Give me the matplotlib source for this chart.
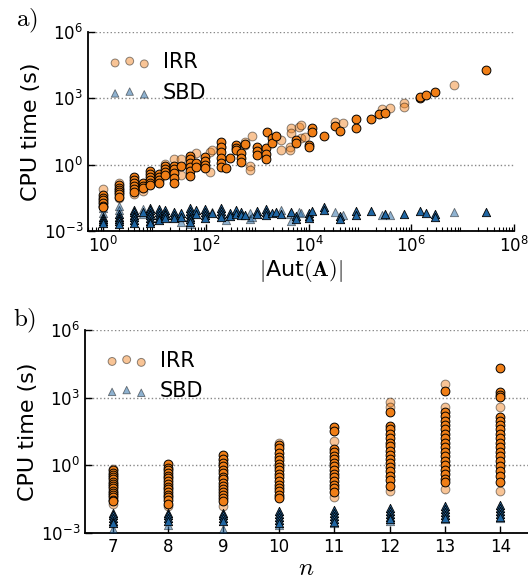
import numpy as np
import matplotlib
matplotlib.use('Agg')
import matplotlib.pyplot as plt

plt.rcParams['mathtext.fontset'] = 'cm'
plt.rcParams['font.family'] = 'DejaVu Sans'

# ---- panel a: CPU time vs |Aut(A)| ----
a_irr_dark_x = [1]*6 + [2]*6 + [4]*6 + [6]*3 + [8]*6 + [12]*4 + [16]*4 + [24]*5 + [32] + [48]*6 + [64]*2 \
    + [96]*4 + [192]*6 + [240, 288] + [384]*3 + [480]*3 + [576] + [960]*3 + [1440]*3 + [1536] + [1920]*2 \
    + [2304] + [5760]*2 + [10000]*2 + [11520]*2 + [20160, 32256, 40320] + [82944]*2 \
    + [161280, 230400, 311040, 1451520, 1451520, 1935360, 2903040, 29030400]
a_irr_dark_y = [0.042, 0.032, 0.025, 0.018, 0.014, 0.012,
                0.12, 0.09, 0.07, 0.055, 0.045, 0.035,
                0.28, 0.2, 0.15, 0.11, 0.08, 0.06,
                0.14, 0.11, 0.09,
                0.5, 0.38, 0.28, 0.2, 0.15, 0.12,
                0.37, 0.28, 0.2, 0.15,
                0.85, 0.6, 0.45, 0.32,
                0.9, 0.6, 0.4, 0.25, 0.15,
                0.85,
                2.4, 1.7, 1.2, 0.8, 0.5, 0.3,
                1.2, 0.8,
                2.2, 1.4, 1.0, 0.67,
                10.5, 6, 3.5, 2, 1.2, 0.77,
                0.67, 1.9,
                7.4, 5.5, 4.4,
                3.3, 2.0, 1.3,
                8.5,
                6.2, 4, 2.6,
                5.3, 3, 1.8,
                30,
                15, 9.5,
                20,
                12.7, 9.3,
                7.4, 6.3,
                43, 28,
                19, 54, 33,
                108, 44,
                112, 200, 220, 1000, 1100, 1350, 1800, 17800]

a_irr_light_x = [1, 1, 2, 2, 4, 6, 6, 16, 24, 32, 32, 64, 64, 120, 120, 128, 192, 576, 576, 720, 720, 768,
                 2880, 2880, 4320, 4320, 4608, 4608, 6600, 7200, 7200, 8400, 33000, 46080, 270000, 380000,
                 725760, 725760, 6900000]
a_irr_light_y = [0.078, 0.02, 0.14, 0.03, 0.045, 0.085, 0.065, 1.1, 1.7, 1.7, 0.33, 3.2, 1.1, 3.8, 0.46, 4.4,
                 6.3, 10.5, 7.4, 0.9, 0.56, 19, 12.7, 4.4, 6.3, 4.4, 44, 26, 50, 60, 15, 17.6, 85, 76, 305,
                 360, 600, 380, 3900]

a_sbd_dark_x = [1]*4 + [2]*5 + [4]*6 + [6] + [8]*7 + [12]*5 + [16]*4 + [24]*3 + [32]*2 + [48]*6 + [64]*2 \
    + [96]*4 + [128] + [192]*4 + [288]*2 + [384]*2 + [480]*2 + [576] + [960]*2 + [1440]*3 + [1920, 2304, 2880, 4608] \
    + [5760]*2 + [10000]*3 + [11520] + [20160]*2 + [40320]*2 + [82944]*2 \
    + [161280, 311040, 725760, 1451520, 1935360, 2903040, 2903040, 29030400]
a_sbd_dark_y = [0.0045, 0.0035, 0.0028, 0.0022,
                0.006, 0.0045, 0.0035, 0.0027, 0.0021,
                0.009, 0.007, 0.0055, 0.0042, 0.0032, 0.0024,
                0.007,
                0.011, 0.0085, 0.0065, 0.005, 0.0037, 0.0028, 0.0022,
                0.01, 0.0075, 0.0055, 0.004, 0.003,
                0.009, 0.0068, 0.005, 0.0037,
                0.007, 0.0052, 0.004,
                0.0065, 0.0045,
                0.011, 0.008, 0.006, 0.0045, 0.0033, 0.0025,
                0.009, 0.006,
                0.01, 0.0075, 0.0055, 0.004,
                0.0065,
                0.011, 0.008, 0.006, 0.0045,
                0.0065, 0.0048,
                0.0085, 0.006,
                0.007, 0.005,
                0.0055,
                0.008, 0.006,
                0.01, 0.007, 0.005,
                0.0068, 0.0075, 0.006, 0.007,
                0.0048, 0.0035,
                0.0065, 0.0048, 0.0037,
                0.0082,
                0.012, 0.0085,
                0.0048, 0.0036,
                0.008, 0.0055,
                0.0082, 0.0059, 0.006, 0.0082, 0.0068, 0.0059, 0.0045, 0.0074]

a_sbd_light_x = [1, 1, 2, 2, 6, 6, 24, 32, 32, 48, 128, 240, 720, 720, 768, 2880, 4320, 4608, 6600, 7200,
                 33000, 46080, 270000, 380000, 6900000]
a_sbd_light_y = [0.011, 0.0065, 0.013, 0.009, 0.0095, 0.006, 0.0055, 0.0045, 0.0025, 0.0021, 0.0075, 0.003,
                 0.0065, 0.0035, 0.0045, 0.0085, 0.006, 0.0028, 0.0074, 0.0065, 0.0074, 0.0055, 0.0055,
                 0.0055, 0.0074]

# ---- panel b: CPU time vs n ----
b_irr_dark = {
    7: [0.6, 0.48, 0.38, 0.3, 0.24, 0.19, 0.15, 0.12, 0.095, 0.075, 0.06, 0.048, 0.038, 0.03, 0.025],
    8: [1.1, 0.8, 0.6, 0.45, 0.35, 0.27, 0.2, 0.15, 0.11, 0.085, 0.065, 0.05, 0.038, 0.028, 0.02],
    9: [2.8, 2.0, 1.3, 0.9, 0.65, 0.45, 0.32, 0.24, 0.17, 0.12, 0.09, 0.065, 0.048, 0.035, 0.026],
    10: [8, 6, 3.5, 2.4, 1.7, 1.2, 0.85, 0.6, 0.42, 0.3, 0.2, 0.14, 0.1, 0.07, 0.05, 0.035],
    11: [49, 35, 5.3, 3.8, 2.7, 1.9, 1.3, 0.9, 0.6, 0.42, 0.3, 0.2, 0.14, 0.1, 0.063],
    12: [226, 58, 40, 24, 16, 10, 7, 4.5, 3, 2, 1.3, 0.85, 0.55, 0.35, 0.22, 0.12],
    13: [1950, 226, 150, 95, 60, 40, 25, 16, 10, 6.5, 4, 2.5, 1.6, 1, 0.65, 0.4, 0.25, 0.18],
    14: [20000, 1750, 1300, 1050, 135, 90, 60, 40, 25, 16, 10, 6.5, 4, 2.5, 1.5, 0.9, 0.55, 0.35, 0.18],
}
b_irr_light = {
    7: [0.7, 0.019], 8: [0.016], 9: [1.8, 0.016], 10: [10, 0.04],
    11: [12, 0.038], 12: [670, 380, 0.074], 13: [4100, 380, 0.088], 14: [380, 0.074],
}
b_sbd_dark = {
    7: [0.008, 0.006, 0.0045, 0.0035, 0.0027],
    8: [0.008, 0.006, 0.0045, 0.0035],
    9: [0.008, 0.006, 0.0045, 0.0035],
    10: [0.0095, 0.007, 0.005, 0.0037, 0.0028],
    11: [0.0105, 0.0075, 0.0055, 0.004, 0.003],
    12: [0.013, 0.0095, 0.007, 0.0052, 0.004],
    13: [0.016, 0.012, 0.0085, 0.0062, 0.0048],
    14: [0.018, 0.013, 0.0095, 0.007, 0.0052],
}
b_sbd_light = {7: [0.0015], 8: [0.0022], 9: [0.0015], 10: [0.0022], 11: [0.0028],
               12: [0.0035], 13: [0.004], 14: [0.0045]}


def flat(d):
    xs, ys = [], []
    for k, v in d.items():
        xs += [k]*len(v)
        ys += v
    return xs, ys


orange = '#f07e16'
blue = '#2066a3'


def style(ax):
    ax.set_yscale('log')
    ax.set_ylim(1e-3, 1e6)
    ax.set_yticks([1e-3, 1e0, 1e3, 1e6])
    ax.yaxis.set_minor_locator(matplotlib.ticker.NullLocator())
    ax.set_yticklabels([r'$\mathdefault{10^{-3}}$', r'$\mathdefault{10^{0}}$',
                        r'$\mathdefault{10^{3}}$', r'$\mathdefault{10^{6}}$'])
    for s in ['top', 'right']:
        ax.spines[s].set_visible(False)
    for s in ['left', 'bottom']:
        ax.spines[s].set_linewidth(1.3)
    ax.tick_params(which='both', direction='in', top=False, right=False, labelsize=12)
    ax.tick_params(which='major', length=5, width=1)
    ax.tick_params(which='minor', length=3, width=0.8)
    ax.yaxis.grid(True, which='major', linestyle=':', color='#888888', linewidth=1)
    ax.set_axisbelow(True)
    ax.set_ylabel('CPU time (s)', fontsize=16, labelpad=2)


def draw(ax, irr_l, irr_d, sbd_l, sbd_d):
    ax.scatter(*irr_l, s=40, marker='o', color=orange, edgecolor='k', alpha=0.45,
               linewidth=0.7, label='IRR', zorder=3)
    ax.scatter(*sbd_l, s=36, marker='^', color=blue, edgecolor='k', alpha=0.5,
               linewidth=0.6, label='SBD', zorder=3)
    ax.scatter(*irr_d, s=40, marker='o', color=orange, edgecolor='k', linewidth=0.7, zorder=4)
    ax.scatter(*sbd_d, s=36, marker='^', color=blue, edgecolor='k', linewidth=0.6, zorder=4)
    ax.legend(loc='upper left', frameon=False, scatterpoints=3, fontsize=15,
              markerscale=0.9, handletextpad=0.6, borderaxespad=0.6)


fig = plt.figure(figsize=(5.28, 5.83), dpi=100)

ax1 = fig.add_axes([0.1667, 0.6038, 0.8068, 0.342])
style(ax1)
draw(ax1, (a_irr_light_x, a_irr_light_y), (a_irr_dark_x, a_irr_dark_y),
     (a_sbd_light_x, a_sbd_light_y), (a_sbd_dark_x, a_sbd_dark_y))
ax1.set_xscale('log')
ax1.set_xlim(0.5, 1e8)
ax1.set_xticks([1e0, 1e2, 1e4, 1e6, 1e8])
ax1.xaxis.set_minor_locator(matplotlib.ticker.LogLocator(base=10, subs=np.arange(2, 10), numticks=100))
ax1.set_xticklabels([r'$\mathdefault{10^{%d}}$' % e for e in [0, 2, 4, 6, 8]])
ax1.set_xlabel(r'$|$Aut$(\mathbf{A})|$', fontsize=16, labelpad=1)

ax2 = fig.add_axes([0.161, 0.0858, 0.839, 0.348])
style(ax2)
draw(ax2, flat(b_irr_light), flat(b_irr_dark), flat(b_sbd_light), flat(b_sbd_dark))
ax2.set_xlim(6.5, 14.5)
ax2.set_xticks(range(7, 15))
ax2.set_xlabel(r'$n$', fontsize=18, labelpad=0)

fig.text(0.03, 0.955, r'$\mathrm{a)}$', fontsize=18)
fig.text(0.025, 0.44, r'$\mathrm{b)}$', fontsize=18)

fig.savefig('out.png', dpi=100)
